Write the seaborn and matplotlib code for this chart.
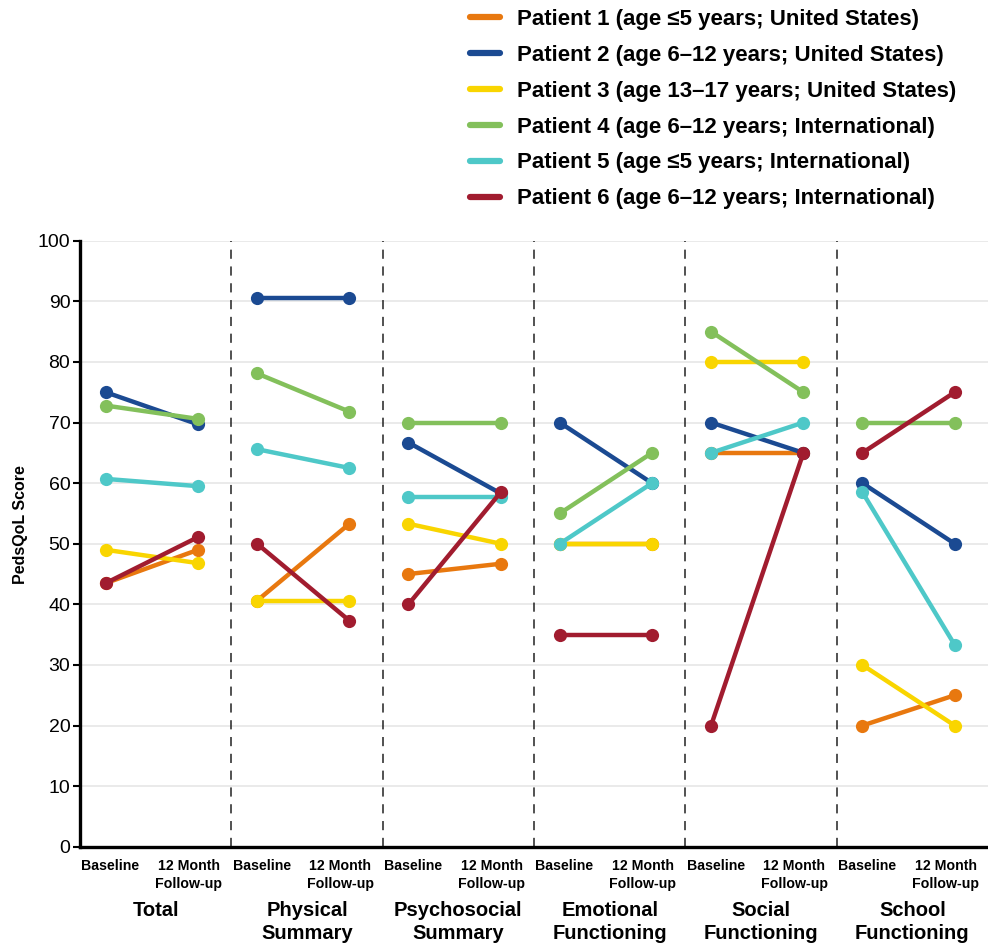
import matplotlib
matplotlib.use("Agg")
import matplotlib.pyplot as plt
from matplotlib.lines import Line2D
import seaborn as sns
import pandas as pd

# PedsQoL scores per patient, baseline vs 12 month follow-up
categories = ["Total", "Physical\nSummary", "Psychosocial\nSummary", "Emotional\nFunctioning",
              "Social\nFunctioning", "School\nFunctioning"]
timepoints = ["Baseline", "12 Month\nFollow-up"]
patients = ["Patient 1 (age \u22645 years; United States)",
            "Patient 2 (age 6\u201312 years; United States)",
            "Patient 3 (age 13\u201317 years; United States)",
            "Patient 4 (age 6\u201312 years; International)",
            "Patient 5 (age \u22645 years; International)",
            "Patient 6 (age 6\u201312 years; International)"]
colors = ["#E8780F", "#1B4A92", "#F9D500", "#83C05B", "#4EC8C8", "#A11C2F"]

# each list: [baseline, follow-up] per category, in category order
p1_base = [43.5, 40.6, 45.0, 50.0, 65.0, 20.0]
p1_follow = [49.0, 53.3, 46.7, 50.0, 65.0, 25.0]
p2_base = [75.0, 90.6, 66.7, 70.0, 70.0, 60.0]
p2_follow = [69.7, 90.6, 58.3, 60.0, 65.0, 50.0]
p3_base = [49.0, 40.6, 53.3, 50.0, 80.0, 30.0]
p3_follow = [46.8, 40.6, 50.0, 50.0, 80.0, 20.0]
p4_base = [72.8, 78.1, 70.0, 55.0, 85.0, 70.0]
p4_follow = [70.6, 71.8, 70.0, 65.0, 75.0, 70.0]
p5_base = [60.7, 65.6, 57.7, 50.0, 65.0, 58.5]
p5_follow = [59.5, 62.5, 57.7, 60.0, 70.0, 33.3]
p6_base = [43.5, 50.0, 40.0, 35.0, 20.0, 65.0]
p6_follow = [51.1, 37.3, 58.5, 35.0, 65.0, 75.0]

base_vals = [p1_base, p2_base, p3_base, p4_base, p5_base, p6_base]
follow_vals = [p1_follow, p2_follow, p3_follow, p4_follow, p5_follow, p6_follow]

BASE_OFF = 0.17
FOLLOW_OFF = 0.78

rows = []
for p, name in enumerate(patients):
    for c in range(len(categories)):
        rows.append({"patient": name, "cat": c, "x": c + BASE_OFF, "score": base_vals[p][c]})
        rows.append({"patient": name, "cat": c, "x": c + FOLLOW_OFF, "score": follow_vals[p][c]})
df = pd.DataFrame(rows)

sns.set_style("white")
plt.rcParams["font.family"] = ["Liberation Sans", "DejaVu Sans"]
plt.rcParams["text.color"] = "black"
plt.rcParams["axes.labelcolor"] = "black"
plt.rcParams["xtick.color"] = "black"
plt.rcParams["ytick.color"] = "black"

fig = plt.figure(figsize=(9.88, 9.44), dpi=100)
ax = fig.add_axes([0.081, 0.103, 0.919, 0.642])

for p, name in enumerate(patients):
    sub = df[df.patient == name]
    sns.lineplot(data=sub, x="x", y="score", units="cat", estimator=None, color=colors[p],
                 lw=3.2, marker="o", markersize=9.5, markeredgewidth=0, ax=ax, legend=False)

ax.set_xlim(0, 6)
ax.set_ylim(0, 100)
ax.set_yticks(range(0, 101, 10))
ax.yaxis.grid(True, color="#e6e6e6", lw=1.2)
ax.set_axisbelow(True)
for c in range(1, len(categories)):
    ax.axvline(c, color="#222222", lw=1.1, ls=(0, (6, 5)))

for s in ["top", "right"]:
    ax.spines[s].set_visible(False)
ax.spines["left"].set_linewidth(2.4)
ax.spines["bottom"].set_linewidth(2.4)
ax.spines["left"].set_color("black")
ax.spines["bottom"].set_color("black")

# tick labels sit a little inside the point positions, like the original
xt = []
xl = []
for c in range(len(categories)):
    xt += [c + 0.2, c + 0.72]
    xl += timepoints
ax.set_xticks(xt)
ax.set_xticklabels(xl, fontsize=10.2, fontweight="bold", linespacing=1.3)
ax.tick_params(axis="x", length=0, pad=9)
ax.tick_params(axis="y", direction="out", length=5, width=1.5, color="black", labelsize=14, pad=2)
ax.yaxis.set_ticks_position("left")

for c, cat in enumerate(categories):
    ax.text(c + 0.5, -0.089, cat, transform=ax.get_xaxis_transform(), ha="center", va="top",
            fontsize=14.5, fontweight="bold", linespacing=1.3)

ax.set_xlabel("")
ax.set_ylabel("PedsQoL Score", fontsize=11.5, fontweight="bold")
ax.yaxis.set_label_coords(-0.057, 0.531)

handles = [Line2D([0], [0], color=col, lw=4.5, solid_capstyle="round") for col in colors]
leg = fig.legend(handles, patients, loc="upper left", bbox_to_anchor=(0.467, 1.0), frameon=False,
                 prop={"size": 16, "weight": "bold"}, handlelength=1.35, handletextpad=0.75,
                 labelspacing=0.67, borderaxespad=0)

fig.savefig("out.png", dpi=100)
